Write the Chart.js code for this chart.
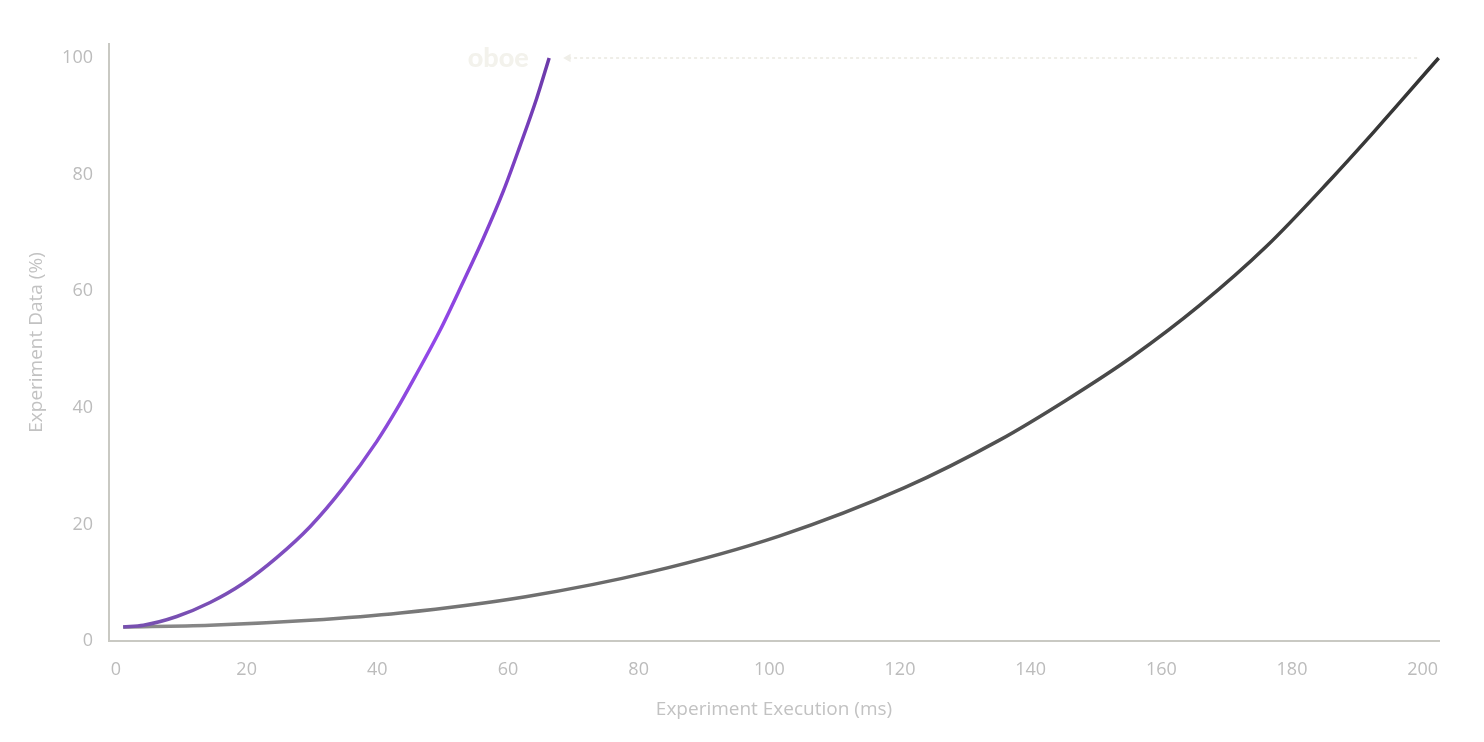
<!DOCTYPE html>
<html>
<head>
<meta charset="utf-8">
<title>Experiment chart</title>
<script src="https://cdn.jsdelivr.net/npm/chart.js@4.4.1/dist/chart.umd.min.js"></script>
<style>
  html, body { margin: 0; padding: 0; background: #fff; }
  #wrap { width: 1484px; height: 742px; }
</style>
</head>
<body>
<div id="wrap"><canvas id="myChart"></canvas></div>
<script>
const ctx = document.getElementById('myChart');

// purple run (fast one)
const fastX = [1.1, 4.2, 9.3, 14.4, 19.5, 24.6, 29.7, 34.8, 39.9, 43.0, 46.0, 49.6, 53.1, 56.2, 59.3, 61.8, 64.4, 66.3];
const fastY = [2.4, 2.7, 4.2, 6.6, 9.9, 14.3, 19.6, 26.3, 34.2, 39.8, 45.8, 53.3, 61.5, 69.0, 77.2, 84.8, 93.1, 100];

// dark run (slow one)
const slowX = [1.1, 14.4, 29.7, 43.5, 62.7, 82.0, 101.5, 120.7, 135.3, 145.5, 155.6, 165.9, 176.1, 186.2, 191.4, 196.5, 202.45];
const slowY = [2.4, 2.7, 3.55, 4.8, 7.6, 11.9, 18.0, 26.3, 34.5, 41.35, 48.8, 57.6, 67.7, 79.5, 85.9, 92.4, 100];

// dotted arrow between the two end points
const arrowX = [69.2, 199.5];
const arrowY = [100, 100];

const xTicks = [0, 20, 40, 60, 80, 100, 120, 140, 160, 180, 200];
const yTicks = [0, 20, 40, 60, 80, 100];

const brandLabel = 'oboe';
const brandX = 58.5;
const brandY = 100;

function toPoints(xs, ys) {
    return xs.map((x, i) => ({ x: x, y: ys[i] }));
}

function purpleGradient(context) {
    const area = context.chart.chartArea;
    if (!area) return '#8e44e6';
    const g = context.chart.ctx.createLinearGradient(0, area.top, 0, area.bottom);
    g.addColorStop(0, '#6a3aa6');
    g.addColorStop(0.5, '#9347ea');
    g.addColorStop(1, '#7650ad');
    return g;
}

function grayGradient(context) {
    const area = context.chart.chartArea;
    if (!area) return '#555';
    const g = context.chart.ctx.createLinearGradient(area.left, 0, area.right, 0);
    g.addColorStop(0, '#8c8c8c');
    g.addColorStop(1, '#333333');
    return g;
}

const brandPlugin = {
    id: 'brand',
    beforeDatasetsDraw(chart) {
        const c = chart.ctx;
        const x = chart.scales.x.getPixelForValue(brandX);
        const y = chart.scales.y.getPixelForValue(brandY);
        c.save();
        c.font = '900 27px Lato';
        c.fillStyle = '#f3f2ec';
        c.textAlign = 'center';
        c.textBaseline = 'middle';
        c.fillText(brandLabel, x, y);
        c.restore();
    }
};

const tickFont = { family: 'Open Sans', size: 18 };
const titleFont = { family: 'Open Sans', size: 19 };

new Chart(ctx, {
    type: 'line',
    data: {
        datasets: [{
            label: 'fast',
            data: toPoints(fastX, fastY),
            borderColor: purpleGradient,
            borderWidth: 3.5,
            pointRadius: 0,
            cubicInterpolationMode: 'monotone',
            clip: false,
            order: 0
        }, {
            label: 'slow',
            data: toPoints(slowX, slowY),
            borderColor: grayGradient,
            borderWidth: 3.5,
            pointRadius: 0,
            cubicInterpolationMode: 'monotone',
            clip: false,
            order: 1
        }, {
            label: 'arrow',
            data: toPoints(arrowX, arrowY),
            borderColor: '#efeee8',
            backgroundColor: '#efeee8',
            borderWidth: 2,
            borderDash: [3, 3],
            pointStyle: ['triangle', false],
            pointRadius: [5, 0],
            pointRotation: -90,
            pointBorderWidth: 0,
            clip: false,
            order: 2
        }]
    },
    options: {
        responsive: true,
        maintainAspectRatio: false,
        animation: false,
        events: [],
        layout: {
            padding: { left: 0, right: 45, top: 44, bottom: 0 }
        },
        plugins: {
            legend: false,
            tooltip: { enabled: false }
        },
        scales: {
            x: {
                type: 'linear',
                min: -1.07,
                max: 202.5,
                afterFit(axis) { axis.height = 101; },
                afterBuildTicks(axis) { axis.ticks = xTicks.map(v => ({ value: v })); },
                grid: { display: false, drawTicks: false },
                border: { display: true, color: '#c9c9c3', width: 2 },
                ticks: { color: '#bcbcbc', font: tickFont, padding: 18, maxRotation: 0 },
                title: {
                    display: true,
                    text: 'Experiment Execution (ms)',
                    color: '#c2c2c2',
                    font: titleFont,
                    padding: { top: 0, bottom: 21 }
                }
            },
            y: {
                type: 'linear',
                min: 0,
                max: 102.4,
                afterFit(axis) { axis.width = 109; },
                afterBuildTicks(axis) { axis.ticks = yTicks.map(v => ({ value: v })); },
                grid: { display: false, drawTicks: false },
                border: { display: true, color: '#c9c9c3', width: 2 },
                ticks: { color: '#bcbcbc', font: tickFont, padding: 16 },
                title: {
                    display: true,
                    text: 'Experiment Data (%)',
                    color: '#c2c2c2',
                    font: titleFont,
                    padding: { top: 25, bottom: 0 }
                }
            }
        }
    },
    plugins: [brandPlugin]
});
</script>
</body>
</html>
